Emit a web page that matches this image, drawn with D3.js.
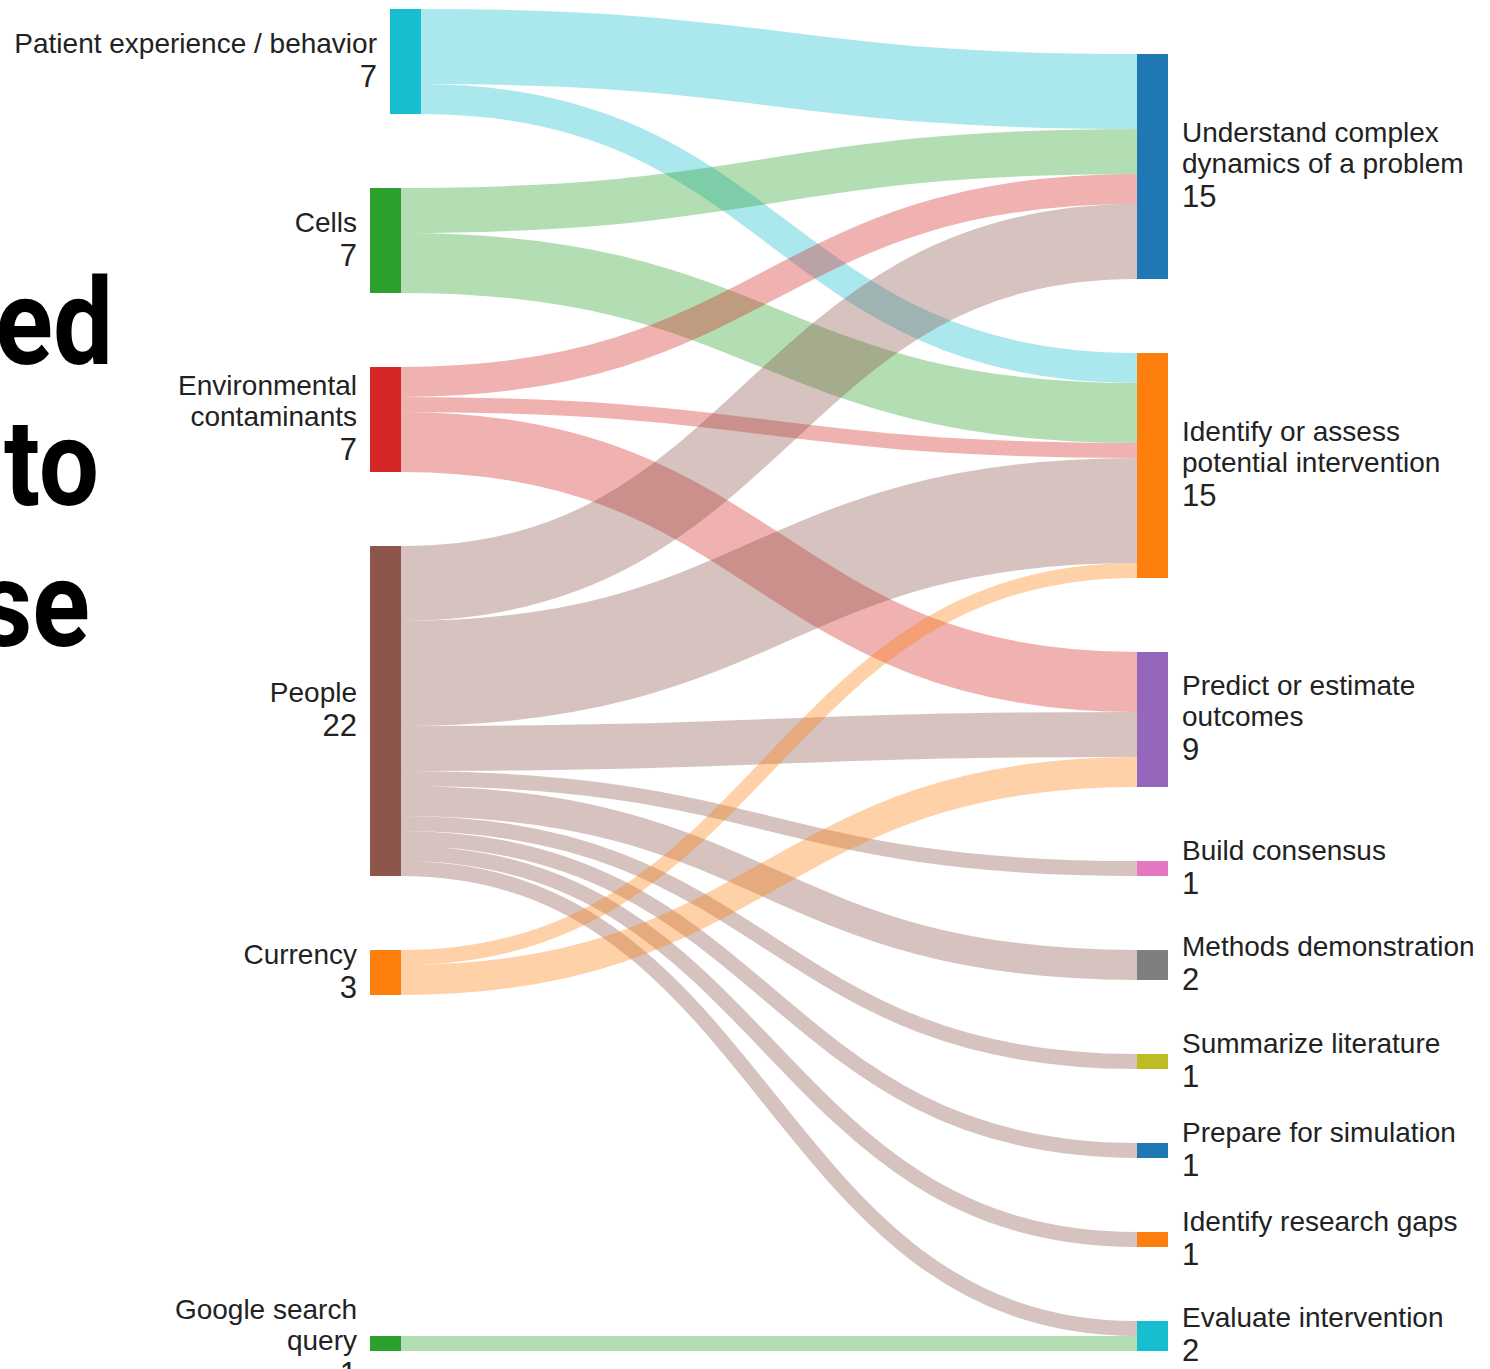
<!DOCTYPE html>
<html>
<head>
<meta charset="utf-8">
<script src="https://cdn.jsdelivr.net/npm/d3@7"></script>
<style>
  body { margin: 0; background: #fff; }
  svg { display: block; }
</style>
</head>
<body>
<div id="sankey"></div>
<script>
// Left column: data sources
const sources = ["Patient experience / behavior", "Cells", "Environmental contaminants", "People", "Currency", "Google search query"];
const sourceLabels = [["Patient experience / behavior"], ["Cells"], ["Environmental", "contaminants"], ["People"], ["Currency"], ["Google search", "query"]];

// Right column: purposes
const targets = ["Understand complex dynamics of a problem", "Identify or assess potential intervention", "Predict or estimate outcomes",
  "Build consensus", "Methods demonstration", "Summarize literature", "Prepare for simulation", "Identify research gaps", "Evaluate intervention"];
const targetLabels = [["Understand complex", "dynamics of a problem"], ["Identify or assess", "potential intervention"], ["Predict or estimate", "outcomes"],
  ["Build consensus"], ["Methods demonstration"], ["Summarize literature"], ["Prepare for simulation"], ["Identify research gaps"], ["Evaluate intervention"]];

// Flows (source index -> target index, count)
const linkFrom  = [0, 0, 1, 1, 2, 2, 2, 3, 3, 3, 3, 3, 3, 3, 3, 3, 4, 4, 5];
const linkTo    = [0, 1, 0, 1, 0, 1, 2, 0, 1, 2, 3, 4, 5, 6, 7, 8, 1, 2, 8];
const linkValue = [5, 2, 3, 4, 2, 1, 4, 5, 7, 3, 1, 2, 1, 1, 1, 1, 1, 2, 1];

// Bits of the slide title that sit behind the chart (cut off on the left)
const titleBits = ["ed", "to", "se"];

// Colors
const sourceColor = d3.scaleOrdinal()
  .domain(sources)
  .range(["#17becf", "#2ca02c", "#d62728", "#8c564b", "#ff7f0e", "#2ca02c"]);
const targetColor = d3.scaleOrdinal()
  .domain(targets)
  .range(["#1f77b4", "#ff7f0e", "#9467bd", "#e377c2", "#7f7f7f", "#bcbd22", "#1f77b4", "#ff7f0e", "#17becf"]);

// Layout config
var cfg = {
  width: 1490,
  height: 1369,
  top: 9,          // top of the node extent
  bottom: 1351,    // bottom of the node extent
  nodeWidth: 31,
  nodePadding: 74,
  unit: 15,        // pixels per count
  linkOpacity: 0.36,
  fontSize: 28,
  valueSize: 31,
  lineStep: 30.5,  // between name lines
  valueStep: 34,   // name -> value line
};

var colX = d3.scalePoint().domain(["left", "right"]).range([370, 1137]);
var ky = d3.scaleLinear().domain([0, 1]).range([0, cfg.unit]);

/////////////////////////////////////////////////////////
//////////////////// Build the layout ///////////////////
/////////////////////////////////////////////////////////

var links = linkValue.map(function(v, i) {
  return {source: linkFrom[i], target: linkTo[i], value: v};
});

var leftNodes = sources.map(function(name, i) {
  return {name: name, lines: sourceLabels[i], color: sourceColor(name), side: "left",
    value: d3.sum(links.filter(function(l) { return l.source === i; }), function(l) { return l.value; })};
});
var rightNodes = targets.map(function(name, i) {
  return {name: name, lines: targetLabels[i], color: targetColor(name), side: "right",
    value: d3.sum(links.filter(function(l) { return l.target === i; }), function(l) { return l.value; })};
});

// left column stacks from the top, its last node drops to the bottom (straight link)
var y = cfg.top;
leftNodes.forEach(function(n, i) {
  n.x0 = colX("left") + (i === 0 ? 20 : 0); // first bar sits a bit to the right in the original
  n.x1 = n.x0 + cfg.nodeWidth;
  n.y0 = y;
  n.y1 = y + ky(n.value);
  y = n.y1 + cfg.nodePadding;
});
var lastLeft = leftNodes[leftNodes.length - 1];
lastLeft.y1 = cfg.bottom;
lastLeft.y0 = cfg.bottom - ky(lastLeft.value);

// right column stacks up from the bottom
y = cfg.bottom;
for (var j = rightNodes.length - 1; j >= 0; j--) {
  var n = rightNodes[j];
  n.x0 = colX("right");
  n.x1 = n.x0 + cfg.nodeWidth;
  n.y1 = y;
  n.y0 = y - ky(n.value);
  y = n.y0 - cfg.nodePadding;
}

links.forEach(function(l) {
  l.source = leftNodes[l.source];
  l.target = rightNodes[l.target];
  l.width = ky(l.value);
});

// link offsets at the source (ordered by target) and at the target (ordered by source)
leftNodes.forEach(function(n) {
  var off = n.y0;
  links.filter(function(l) { return l.source === n; })
    .sort(function(a, b) { return a.target.y0 - b.target.y0; })
    .forEach(function(l) { l.y0 = off + l.width / 2; off += l.width; });
});
rightNodes.forEach(function(n) {
  var off = n.y0;
  links.filter(function(l) { return l.target === n; })
    .sort(function(a, b) { return a.source.y0 - b.source.y0; })
    .forEach(function(l) { l.y1 = off + l.width / 2; off += l.width; });
});

/////////////////////////////////////////////////////////
//////////////////////// Draw ///////////////////////////
/////////////////////////////////////////////////////////

var svg = d3.select("#sankey").append("svg")
  .attr("width", cfg.width)
  .attr("height", cfg.height);

// Slide title fragments
var titleX = [113, 99, 90];
svg.append("g").attr("class", "title")
  .selectAll("text")
  .data(titleBits)
  .enter()
  .append("text")
  .attr("transform", function(d, i) { return "translate(" + titleX[i] + "," + (364 + i * 141) + ") scale(0.89,1)"; })
  .attr("text-anchor", "end")
  .style("font-family", "Roboto, sans-serif")
  .style("font-weight", 700)
  .style("font-size", "120px")
  .style("fill", "#000")
  .text(function(d) { return d; });

var linkPath = d3.linkHorizontal()
  .source(function(d) { return [d.source.x1, d.y0]; })
  .target(function(d) { return [d.target.x0, d.y1]; });

svg.append("g").attr("class", "links")
  .selectAll("path")
  .data(links)
  .enter()
  .append("path")
  .attr("d", linkPath)
  .style("fill", "none")
  .style("stroke", function(d) { return d.source.color; })
  .style("stroke-opacity", cfg.linkOpacity)
  .style("stroke-width", function(d) { return d.width; });

var allNodes = leftNodes.concat(rightNodes);

svg.append("g").attr("class", "nodes")
  .selectAll("rect")
  .data(allNodes)
  .enter()
  .append("rect")
  .attr("x", function(d) { return d.x0; })
  .attr("y", function(d) { return d.y0; })
  .attr("width", function(d) { return d.x1 - d.x0; })
  .attr("height", function(d) { return d.y1 - d.y0; })
  .style("fill", function(d) { return d.color; });

// Labels: name lines then the count, centred on the bar
var label = svg.append("g").attr("class", "labels")
  .selectAll("text")
  .data(allNodes)
  .enter()
  .append("text")
  .attr("text-anchor", function(d) { return d.side === "left" ? "end" : "start"; })
  .style("font-family", "'Liberation Sans', Arial, sans-serif")
  .style("font-size", cfg.fontSize + "px")
  .style("fill", "#222");

label.each(function(d) {
  var lines = d.lines.concat([String(d.value)]);
  var block = (d.lines.length - 1) * cfg.lineStep + cfg.valueStep;
  var cy = (d.y0 + d.y1) / 2;
  var firstBase = cy - block / 2 + 8;
  var lx = d.side === "left" ? d.x0 - 13 : d.x1 + 14;
  d3.select(this).selectAll("tspan")
    .data(lines)
    .enter()
    .append("tspan")
    .attr("x", lx)
    .attr("y", function(t, i) {
      return i < d.lines.length ? firstBase + i * cfg.lineStep
        : firstBase + (d.lines.length - 1) * cfg.lineStep + cfg.valueStep;
    })
    .style("font-size", function(t, i) { return i < d.lines.length ? null : cfg.valueSize + "px"; })
    .text(function(t) { return t; });
});
</script>
</body>
</html>
